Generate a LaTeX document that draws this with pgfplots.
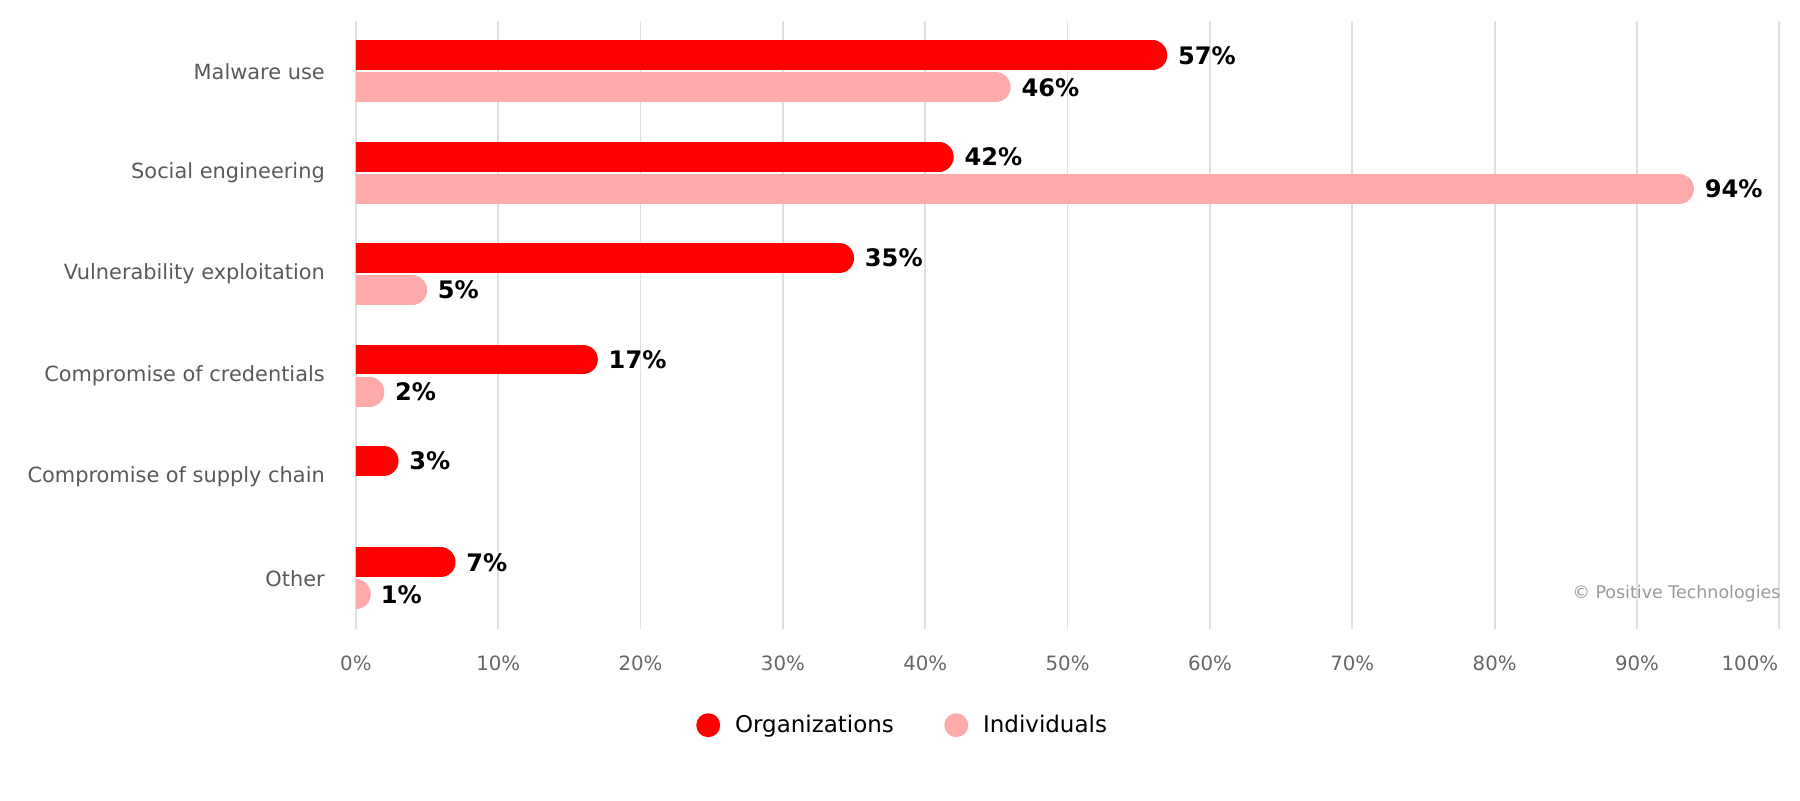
\documentclass[border=0pt]{standalone}
\usepackage{pgfplots}
\pgfplotsset{compat=1.18}
\usepackage{fontspec}
\setmainfont{DejaVu Sans}
\definecolor{org}{HTML}{FF0000}
\definecolor{ind}{HTML}{FFAAAA}
\definecolor{gridc}{HTML}{E0E0E0}
\definecolor{labc}{HTML}{595959}
\definecolor{tickc}{HTML}{666666}
\definecolor{copyc}{HTML}{999999}
% one rounded bar: colour, y position, value
\newcommand\rbar[3]{\addplot[#1, line width=13pt, line cap=round, shorten >=6.5pt, forget plot] coordinates {(0,#2) (#3,#2)};}
\begin{document}
\begin{tikzpicture}
\useasboundingbox (0,0) rectangle (784pt,348.5pt);
\begin{axis}[
  at={(155pt,74.5pt)}, anchor=south west,
  scale only axis, width=620pt, height=265pt,
  xmin=0, xmax=100, ymin=-0.5, ymax=5.5,
  axis line style={draw=none},
  major tick length=0pt,
  xtick={0,10,...,90},
  extra x ticks={100},
  extra x tick style={xmajorgrids=true, xticklabel style={anchor=north east, xshift=3pt}},
  xmajorgrids, grid style={gridc, line width=0.75pt},
  xticklabel={\pgfmathprintnumber{\tick}\%},
  /pgf/number format/assume math mode=true,
  xticklabel style={font=\fontsize{8.6}{10}\selectfont, text=tickc, yshift=-8pt},
  ytick={0,1,2,3,4,5},
  yticklabels={Other, Compromise of supply chain, Compromise of credentials, Vulnerability exploitation, Social engineering, Malware use},
  yticklabel style={font=\fontsize{9.1}{11}\selectfont, text=labc, xshift=-10pt},
  legend style={at={(0.385,-0.158)}, anchor=center, draw=none, legend columns=2,
    font=\fontsize{10}{12}\selectfont,
    /tikz/every odd column/.append style={column sep=4.5pt},
    /tikz/every even column/.append style={column sep=20pt}},
  legend cell align=left,
]
% Organizations (y = category + 0.158)
\rbar{org}{5.158}{57}
\rbar{org}{4.158}{42}
\rbar{org}{3.158}{35}
\rbar{org}{2.158}{17}
\rbar{org}{1.158}{3}
\rbar{org}{0.158}{7}
% Individuals (y = category - 0.158)
\rbar{ind}{4.842}{46}
\rbar{ind}{3.842}{94}
\rbar{ind}{2.842}{5}
\rbar{ind}{1.842}{2}
\rbar{ind}{-0.158}{1}
% value labels
\addplot[draw=none, mark=none, forget plot, point meta=explicit symbolic,
  nodes near coords={\pgfplotspointmeta\%},
  every node near coord/.append style={font=\bfseries\fontsize{10.5}{12}\selectfont, text=black, anchor=west, xshift=1.2pt}]
  coordinates {(57,5.158)[57] (42,4.158)[42] (35,3.158)[35] (17,2.158)[17] (3,1.158)[3] (7,0.158)[7]
               (46,4.842)[46] (94,3.842)[94] (5,2.842)[5] (2,1.842)[2] (1,-0.158)[1]};
\addlegendimage{legend image code/.code={\fill[org] (0.25cm,0cm) circle (5pt);}}
\addlegendentry{Organizations}
\addlegendimage{legend image code/.code={\fill[ind] (0.25cm,0cm) circle (5pt);}}
\addlegendentry{Individuals}
\end{axis}
\node[anchor=east, font=\fontsize{7.6}{9}\selectfont, text=copyc] at (779pt,90pt) {© Positive Technologies};
\end{tikzpicture}
\end{document}
